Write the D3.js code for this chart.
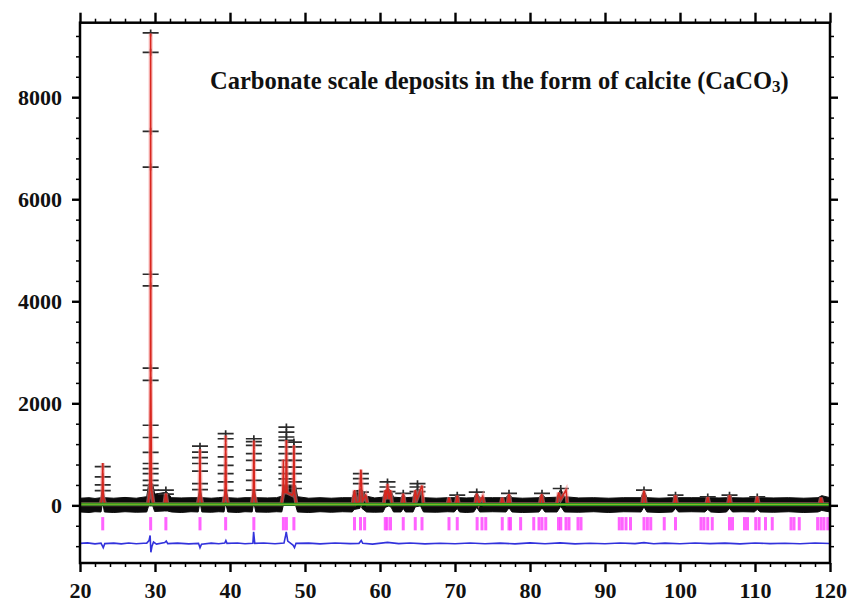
<!DOCTYPE html>
<html>
<head>
<meta charset="utf-8">
<script src="https://cdn.jsdelivr.net/npm/d3@7"></script>
<style>
  body { margin: 0; background: #fff; }
  svg { display: block; }
  .tick text { font-family: "Liberation Serif", "Times New Roman", serif; font-weight: bold; font-size: 22px; fill: #111; }
</style>
</head>
<body>
<div id="chart"></div>
<script>
var WIDTH = 851;
var HEIGHT = 602;

// x axis (2-theta, degrees) and y axis (intensity) ticks
var xMajorTicks = [20, 30, 40, 50, 60, 70, 80, 90, 100, 110, 120];
var yMajorTicks = [0, 2000, 4000, 6000, 8000];

var obsPeakPos = [23.03, 29.42, 31.45, 36.0, 39.42, 43.18, 47.52, 48.52, 57.45, 61.0, 63.1, 65.0, 70.3, 72.9, 77.2, 81.6, 84.1, 95.2, 99.4, 103.7, 106.6, 110.3];
var obsPeakVals = [
    [760, 560, 400, 290],
    [9260, 8880, 7330, 6630, 4530, 4300, 2690, 2450, 1570, 1330, 1040, 820, 720, 620, 490, 390, 300],
    [300, 220],
    [1160, 1045, 935, 820, 670, 425, 310],
    [1405, 1305, 1145, 950, 785, 620, 460, 295],
    [1305, 1250, 1175, 1015, 880, 690, 490, 300],
    [1535, 1435, 1340, 1275, 1145, 1015, 880, 750, 620, 520, 390],
    [1240, 1145, 1015, 880, 750, 620, 460, 330],
    [620, 525, 425, 260],
    [460, 360, 270],
    [235],
    [425, 360, 270],
    [200],
    [260],
    [235],
    [235],
    [330],
    [300],
    [200],
    [165],
    [200],
    [165]
];

// band of dense observed points along the background: [2theta, low, high]
var obsBand = [
    [20, -130, 140], [21.2, -140, 150], [22.0, -125, 135], [22.8, -130, 150], [22.95, 0, 300], [23.1, 0, 300], [23.25, -130, 150],
    [24.5, -140, 140], [26, -125, 155], [27.5, -135, 140],
    [28.9, -130, 170], [29.15, -10, 420], [29.7, -10, 420], [29.95, -120, 220], [31.25, -110, 250], [31.65, -110, 250], [32.2, -130, 150],
    [33.5, -140, 145], [34.8, -125, 150],
    [35.75, -130, 150], [35.92, 0, 300], [36.08, 0, 300], [36.25, -130, 150],
    [37.5, -135, 140], [38.5, -125, 150],
    [39.2, -130, 160], [39.35, 0, 330], [39.5, 0, 330], [39.7, -130, 150],
    [41, -140, 140], [42, -125, 150],
    [42.95, -130, 150], [43.1, 0, 320], [43.26, 0, 320], [43.45, -130, 150],
    [45, -135, 145], [46.2, -125, 150],
    [46.9, -130, 180], [47.1, 0, 390], [48.75, 0, 390], [49.0, -130, 170],
    [50.5, -140, 140], [52, -125, 150], [53.5, -135, 140], [55, -125, 150],
    [56.3, -130, 150], [56.55, -80, 280], [57.3, -60, 300], [57.45, 0, 330], [57.6, -60, 300], [58.2, -130, 180],
    [59.3, -135, 145],
    [60.4, -130, 160], [60.7, -40, 300], [61.2, -10, 320], [61.5, -40, 280], [61.8, -130, 160],
    [62.8, -130, 150], [63.1, -60, 230], [63.4, -130, 150],
    [64.4, -130, 160], [64.7, -30, 300], [65.4, -10, 310], [65.8, -130, 150],
    [67.5, -135, 140], [69.0, -125, 150],
    [69.9, -130, 150], [70.3, -60, 210], [70.6, -130, 150],
    [71.5, -140, 145],
    [72.5, -130, 150], [72.9, -40, 250], [73.3, -130, 150],
    [75, -125, 150],
    [76.8, -130, 150], [77.2, -50, 230], [77.6, -130, 150],
    [79, -140, 140],
    [81.2, -130, 150], [81.6, -50, 230], [82.0, -130, 150],
    [83.6, -130, 160], [84.1, -20, 320], [84.6, -130, 170],
    [86.5, -135, 145], [88.5, -125, 150], [90.5, -140, 140], [92.5, -125, 150],
    [94.8, -130, 150], [95.2, -30, 300], [95.6, -130, 150],
    [97.2, -140, 140],
    [99.0, -130, 150], [99.4, -60, 200], [99.8, -130, 150],
    [101.5, -125, 150],
    [103.3, -130, 150], [103.7, -80, 170], [104.1, -130, 150],
    [105.2, -140, 145],
    [106.2, -130, 150], [106.6, -60, 200], [107.0, -130, 150],
    [108.4, -125, 145],
    [109.9, -130, 150], [110.3, -80, 170], [110.7, -130, 150],
    [112.5, -135, 145], [114.5, -125, 150], [116.5, -140, 140],
    [118.4, -130, 150], [118.9, -100, 190], [120, -130, 150]
];

// calculated profile (red)
var calcLine = [
    [20, 20], [22.75, 20], [22.95, 150], [23.03, 830], [23.11, 150], [23.35, 20],
    [29.05, 20], [29.3, 300], [29.39, 2500], [29.42, 9250], [29.45, 2500], [29.54, 300], [29.8, 20],
    [31.25, 20], [31.45, 230], [31.65, 20],
    [35.7, 20], [35.92, 200], [36.0, 1100], [36.08, 200], [36.3, 20],
    [39.1, 20], [39.34, 220], [39.42, 1370], [39.5, 220], [39.75, 20],
    [42.9, 20], [43.1, 220], [43.18, 1270], [43.26, 220], [43.5, 20],
    [46.85, 20], [47.05, 200], [47.12, 900], [47.2, 250], [47.44, 250], [47.52, 1280], [47.6, 250],
    [48.3, 200], [48.44, 250], [48.52, 1180], [48.6, 250], [48.85, 20],
    [56.35, 20], [56.6, 300], [56.85, 40], [57.25, 80], [57.45, 700], [57.65, 80], [58.1, 200], [58.35, 20],
    [60.5, 20], [60.7, 300], [60.85, 120], [61.0, 420], [61.2, 120], [61.4, 300], [61.6, 20],
    [62.9, 20], [63.1, 230], [63.3, 20],
    [64.5, 20], [64.7, 300], [64.9, 120], [65.6, 390], [65.8, 20],
    [69.0, 20], [69.2, 150], [69.4, 20], [70.1, 20], [70.3, 190], [70.5, 20],
    [72.7, 20], [72.9, 230], [73.2, 40], [73.7, 180], [73.9, 20],
    [76.1, 20], [76.3, 150], [76.5, 20], [77.0, 20], [77.2, 220], [77.4, 20],
    [81.3, 20], [81.55, 220], [81.8, 20],
    [83.6, 20], [83.8, 250], [84.1, 120], [84.8, 300], [85.0, 20],
    [94.95, 20], [95.2, 290], [95.45, 20],
    [99.2, 20], [99.4, 200], [99.6, 20],
    [103.5, 20], [103.7, 160], [103.9, 20],
    [106.4, 20], [106.6, 200], [106.8, 20],
    [110.1, 20], [110.3, 170], [110.5, 20],
    [118.6, 20], [118.8, 150], [119.0, 20], [120, 20]
];

// fitted background (green)
var background = [[20, 22], [50, 20], [80, 18], [120, 18]];

// Bragg reflection positions (magenta ticks)
var braggPos = [23.03, 29.42, 31.45, 36.0, 39.42, 43.18, 47.12, 47.52, 48.52,
    56.6, 57.4, 57.95, 60.7, 60.95, 61.4, 63.1, 64.7, 65.6, 69.2, 70.3,
    72.95, 73.6, 74.1, 76.3, 77.2, 77.4, 78.75, 80.5, 81.2, 81.6, 82.1, 83.8, 84.1, 84.8, 85.2,
    86.4, 86.8, 91.9, 92.3, 92.8, 93.4, 95.2, 95.65, 96.1, 97.9, 99.4,
    102.8, 103.2, 103.7, 104.3, 106.6, 107.0, 108.6, 109.0, 110.1, 110.55, 111.4, 112.3,
    114.8, 115.2, 115.9, 118.35, 118.8, 119.2, 119.7];
var braggRange = [-490, -230];

// difference curve (blue)
var diffLine = [
    [20, -745], [21, -735], [22, -755], [22.8, -740], [23.0, -800], [23.1, -830], [23.3, -750],
    [24.5, -740], [25.5, -755], [26.5, -738], [27.5, -752], [28.5, -742], [28.9, -740],
    [29.2, -690], [29.35, -590], [29.45, -920], [29.6, -800], [29.8, -720], [30.2, -760],
    [31.3, -730], [31.5, -700], [31.7, -750], [33, -740], [34.5, -755],
    [35.8, -745], [36.0, -830], [36.2, -760], [37.5, -740], [38.5, -752],
    [39.3, -740], [39.45, -690], [39.6, -745], [41, -738], [42, -752],
    [43.05, -745], [43.15, -520], [43.3, -745], [44.5, -738], [46, -752],
    [47.2, -740], [47.4, -600], [47.5, -520], [47.7, -700], [48.4, -780], [48.6, -830], [48.8, -745],
    [50.5, -740], [52, -755], [54, -738], [56, -750], [57.2, -745], [57.5, -690], [57.7, -745],
    [59, -760], [61, -725], [62.5, -750], [64, -738], [66, -755], [68, -742], [70, -752],
    [72, -738], [74, -752], [76, -740], [78, -755], [80, -735], [82, -752], [84, -735],
    [86, -755], [88, -742], [90, -752], [92, -738], [94, -750], [95.2, -730], [96.5, -752],
    [98, -740], [100, -752], [102, -738], [104, -750], [106, -740], [108, -755], [110, -738],
    [112, -750], [114, -742], [116, -752], [118, -738], [120, -748]
];

var translate = function (x, y) {
    return "translate(" + x + "," + y + ")";
};

var loadChart = function () {
    var xScale = d3.scaleLinear().domain([20, 120]).range([80, 830]);
    var yScale = d3.scaleLinear().domain([-1130, 9460]).range([563, 22.7]);

    var svg = d3.select('#chart').append('svg')
        .attr('width', WIDTH)
        .attr('height', HEIGHT);

    svg.append('rect').attr('width', WIDTH).attr('height', HEIGHT).attr('fill', '#fff');

    var plot = svg.append('g');

    // dense band of observed points
    var band = d3.area()
        .x(function (d) { return xScale(d[0]); })
        .y0(function (d) { return yScale(d[1]); })
        .y1(function (d) { return yScale(d[2]); });
    plot.append('path')
        .attr('d', band(obsBand))
        .attr('fill', '#0b0b0b')
        .attr('stroke', '#0b0b0b')
        .attr('stroke-width', 1);

    // observed "+" markers on peaks
    var obsPoints = [];
    obsPeakPos.forEach(function (p, i) {
        obsPeakVals[i].forEach(function (v) { obsPoints.push([p, v]); });
    });
    plot.selectAll('.obs')
        .data(obsPoints)
        .enter()
        .append('path')
        .attr('class', 'obs')
        .attr('transform', function (d) { return translate(xScale(d[0]), yScale(d[1])); })
        .attr('d', 'M-8,0H8M0,-3.5V3.5')
        .attr('stroke', '#2b2b2b')
        .attr('stroke-width', 1.7)
        .attr('fill', 'none');

    var line = d3.line()
        .x(function (d) { return xScale(d[0]); })
        .y(function (d) { return yScale(d[1]); });

    // calculated profile
    plot.append('path')
        .attr('d', line(calcLine))
        .attr('fill', 'none')
        .attr('stroke', '#f28a8a')
        .attr('stroke-width', 4)
        .attr('stroke-opacity', 0.55);
    plot.append('path')
        .attr('d', line(calcLine))
        .attr('fill', 'none')
        .attr('stroke', '#d8261e')
        .attr('stroke-width', 1.5);

    // background
    plot.append('path')
        .attr('d', line(background))
        .attr('fill', 'none')
        .attr('stroke', '#23901f')
        .attr('stroke-width', 3);
    plot.append('path')
        .attr('d', line(background))
        .attr('fill', 'none')
        .attr('stroke', '#a6c82a')
        .attr('stroke-width', 0.8);

    // Bragg positions
    plot.selectAll('.bragg')
        .data(braggPos)
        .enter()
        .append('rect')
        .attr('class', 'bragg')
        .attr('x', function (d) { return xScale(d) - 1.5; })
        .attr('y', yScale(braggRange[1]))
        .attr('width', 3)
        .attr('height', yScale(braggRange[0]) - yScale(braggRange[1]))
        .attr('fill', '#ff3cff')
        .attr('fill-opacity', 0.8);

    // difference
    plot.append('path')
        .attr('d', line(diffLine))
        .attr('fill', 'none')
        .attr('stroke', '#3232dc')
        .attr('stroke-width', 1.6);

    // axes: major and minor ticks on all four sides
    var yMinor = d3.range(-800, 9401, 400).filter(function (v) { return v % 2000 !== 0; });
    var xMinor = d3.range(22, 120, 2).filter(function (v) { return v % 10 !== 0; });

    var styleAxis = function (g, w) {
        g.select('.domain').remove();
        g.selectAll('.tick line').attr('stroke', '#000').attr('stroke-width', w);
    };

    svg.append('g').attr('transform', translate(80, 0))
        .call(d3.axisLeft(yScale).tickValues(yMajorTicks).tickSize(8).tickPadding(10).tickFormat(d3.format('d')))
        .call(styleAxis, 2.4);
    svg.append('g').attr('transform', translate(80, 0))
        .call(d3.axisLeft(yScale).tickValues(yMinor).tickSize(4).tickFormat(''))
        .call(styleAxis, 1.5);
    svg.append('g').attr('transform', translate(830, 0))
        .call(d3.axisRight(yScale).tickValues(yMajorTicks).tickSize(8).tickFormat(''))
        .call(styleAxis, 2.4);
    svg.append('g').attr('transform', translate(830, 0))
        .call(d3.axisRight(yScale).tickValues(yMinor).tickSize(4).tickFormat(''))
        .call(styleAxis, 1.5);

    svg.append('g').attr('transform', translate(0, 563))
        .call(d3.axisBottom(xScale).tickValues(xMajorTicks).tickSize(9).tickPadding(10).tickFormat(d3.format('d')))
        .call(styleAxis, 2.4);
    svg.append('g').attr('transform', translate(0, 563))
        .call(d3.axisBottom(xScale).tickValues(xMinor).tickSize(4).tickFormat(''))
        .call(styleAxis, 1.5);
    svg.append('g').attr('transform', translate(0, 22.7))
        .call(d3.axisTop(xScale).tickValues(xMajorTicks).tickSize(10).tickFormat(''))
        .call(styleAxis, 2.4);
    svg.append('g').attr('transform', translate(0, 22.7))
        .call(d3.axisTop(xScale).tickValues(xMinor).tickSize(4).tickFormat(''))
        .call(styleAxis, 1.5);

    svg.append('rect')
        .attr('x', 80).attr('y', 22.7)
        .attr('width', 750).attr('height', 563 - 22.7)
        .attr('fill', 'none')
        .attr('stroke', '#000')
        .attr('stroke-width', 2.5);

    var title = svg.append('text')
        .attr('x', 210)
        .attr('y', 89)
        .attr('font-family', '"Liberation Serif", "Times New Roman", serif')
        .attr('font-weight', 'bold')
        .attr('font-size', 24.5)
        .attr('fill', '#111');
    title.append('tspan').text('Carbonate scale deposits in the form of calcite (CaCO');
    title.append('tspan').attr('font-size', 17).attr('dy', 3).text('3');
    title.append('tspan').attr('dy', -3).text(')');
};

window.onload = loadChart;
</script>
</body>
</html>
